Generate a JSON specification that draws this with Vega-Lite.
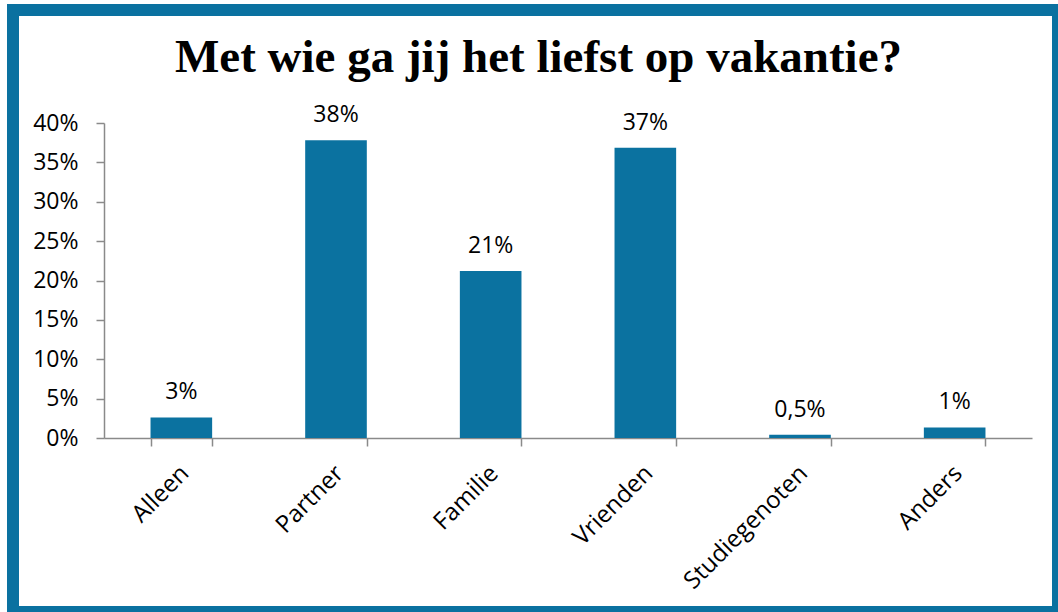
{
  "$schema": "https://vega.github.io/schema/vega-lite/v6.json",
  "width": 1045,
  "height": 602,
  "autosize": {"type": "none"},
  "padding": {"left": 13, "top": 10, "right": 0, "bottom": 0},
  "background": "white",
  "view": {"fill": "white", "stroke": "#0A71A0", "strokeWidth": 12},
  "title": {
    "text": "Met wie ga jij het liefst op vakantie?",
    "font": "Liberation Serif",
    "fontSize": 47,
    "fontWeight": "bold",
    "color": "black",
    "anchor": "middle",
    "frame": "group",
    "offset": -72,
    "dx": 3
  },
  "data": {
    "values": [
      {"cat": "Alleen", "v": 0.0261, "label": "3%"},
      {"cat": "Partner", "v": 0.378, "label": "38%"},
      {"cat": "Familie", "v": 0.212, "label": "21%"},
      {"cat": "Vrienden", "v": 0.3687, "label": "37%"},
      {"cat": "Studiegenoten", "v": 0.0042, "label": "0,5%"},
      {"cat": "Anders", "v": 0.0134, "label": "1%"}
    ]
  },
  "encoding": {
    "x": {
      "field": "cat",
      "type": "nominal",
      "sort": null,
      "scale": {"range": [91, 1019], "paddingInner": 0.6016, "paddingOuter": 0.3008},
      "axis": {
        "title": null,
        "offset": -174,
        "labelAngle": -45,
        "labelFont": "Open Sans",
        "labelFontSize": 24,
        "labelColor": "black",
        "labelPadding": 15,
        "labelOffset": -5,
        "tickBand": "extent",
        "tickSize": 8,
        "tickColor": "#8a8a8a",
        "tickWidth": 1.5,
        "domainColor": "#8a8a8a",
        "domainWidth": 1.5
      }
    },
    "y": {
      "field": "v",
      "type": "quantitative",
      "scale": {"domain": [0, 0.4], "range": [428, 113], "nice": false},
      "axis": {
        "title": null,
        "offset": -91,
        "values": [0, 0.05, 0.1, 0.15, 0.2, 0.25, 0.3, 0.35, 0.4],
        "format": ".0%",
        "grid": false,
        "labelFont": "Open Sans",
        "labelFontSize": 23,
        "labelColor": "black",
        "labelPadding": 18,
        "tickSize": 8,
        "tickColor": "#8a8a8a",
        "tickWidth": 1.5,
        "domainColor": "#8a8a8a",
        "domainWidth": 1.5
      }
    }
  },
  "layer": [
    {"mark": {"type": "bar", "color": "#0B72A0"}},
    {
      "mark": {"type": "text", "font": "Open Sans", "fontSize": 23, "color": "black", "baseline": "alphabetic", "dy": -18},
      "encoding": {"text": {"field": "label"}}
    }
  ]
}
